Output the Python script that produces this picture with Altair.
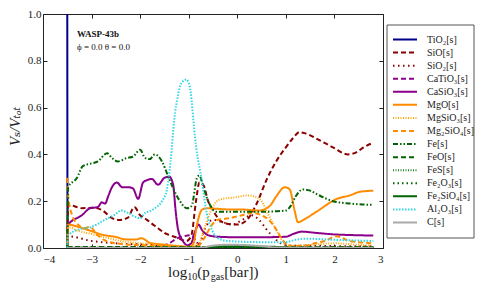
import altair as alt
import pandas as pd

species = ["TiO₂[s]", "SiO[s]", "SiO₂[s]", "CaTiO₃[s]", "CaSiO₃[s]", "MgO[s]",
           "MgSiO₃[s]", "Mg₂SiO₄[s]", "Fe[s]", "FeO[s]", "FeS[s]", "Fe₂O₃[s]",
           "Fe₂SiO₄[s]", "Al₂O₃[s]", "C[s]"]
colors = ["#00008B", "#8B0000", "#8B0000", "#8B008B", "#8B008B", "#FF8C00",
          "#FFA500", "#FF8C00", "#006400", "#006400", "#228B22", "#006400",
          "#006400", "#33D6E3", "#A9A9A9"]
dashes = [[1, 0], [5, 3], [1.5, 3.5], [5, 3], [1, 0], [1, 0],
          [1, 1.5], [5, 3], [5, 2, 1.5, 2, 1.5, 2], [5, 3], [1, 1.5], [1.5, 3],
          [1, 0], [1.5, 1.5], [1, 0]]

tio2_x = [-3.5, -3.495, 2.8]
tio2_y = [1.0, 0.0, 0.0]

sio_x = [-3.5, -3.48, -3.2, -2.97, -2.77, -2.58, -2.42, -2.25, -2.12, -2.0, -1.86,
         -1.7, -1.5, -1.25, -1.05, -0.95, -0.85, -0.78, -0.7, -0.6, -0.5, -0.25,
         0.0, 0.2, 0.4, 0.6, 0.8, 1.0, 1.15, 1.28, 1.4, 1.7, 1.97, 2.28, 2.46, 2.6, 2.8]
sio_y = [0.0, 0.185, 0.17, 0.172, 0.16, 0.128, 0.12, 0.13, 0.175, 0.14, 0.12,
         0.095, 0.065, 0.045, 0.03, 0.05, 0.2, 0.28, 0.27, 0.2, 0.16, 0.105,
         0.10, 0.12, 0.19, 0.29, 0.37, 0.43, 0.47, 0.495, 0.49, 0.46, 0.43, 0.40, 0.41, 0.43, 0.45]

sio2_x = [-3.5, -3.48, -3.0, -2.5, -2.0, -1.5, -1.0, -0.8, -0.65, -0.5, -0.3, -0.1,
          0.1, 0.3, 0.45, 0.6, 0.75, 0.9, 1.1, 1.5, 2.0, 2.8]
sio2_y = [0.0, 0.05, 0.03, 0.02, 0.015, 0.01, 0.005, 0.01, 0.09, 0.12, 0.11, 0.10,
          0.12, 0.14, 0.12, 0.08, 0.045, 0.02, 0.01, 0.01, 0.008, 0.008]

catio3_x = [-3.5, -3.48, -2.0, -1.6, -1.4, -1.25, -1.1, -0.95, -0.85, -0.75, 0.0, 2.8]
catio3_y = [0.0, 0.004, 0.004, 0.008, 0.02, 0.04, 0.05, 0.055, 0.03, 0.003, 0.002, 0.002]

casio3_x = [-3.5, -3.48, -3.2, -3.03, -2.87, -2.79, -2.72, -2.66, -2.58, -2.48, -2.37,
            -2.25, -2.15, -2.04, -1.94, -1.86, -1.76, -1.63, -1.5, -1.4, -1.32, -1.27,
            -1.22, -1.12, -1.03, -0.95, -0.87, -0.8, -0.72, -0.6, -0.4, 0.0, 0.5, 1.0,
            1.15, 1.33, 1.6, 2.0, 2.4, 2.8]
casio3_y = [0.0, 0.10, 0.14, 0.17, 0.175, 0.195, 0.19, 0.22, 0.26, 0.28, 0.26,
            0.26, 0.255, 0.21, 0.28, 0.29, 0.295, 0.27, 0.30, 0.305, 0.27, 0.16,
            0.08, 0.03, 0.012, 0.02, 0.07, 0.1, 0.075, 0.055, 0.048, 0.046, 0.046, 0.048,
            0.06, 0.07, 0.065, 0.058, 0.055, 0.053]

mgo_x = [-3.5, -3.48, -3.2, -3.0, -2.8, -2.5, -2.3, -2.1, -1.97, -1.8, -1.5, -1.2,
         -1.0, -0.9, -0.83, -0.72, -0.6, -0.45, -0.2, 0.05, 0.45, 0.67, 0.8, 0.98,
         1.08, 1.18, 1.25, 1.4, 1.63, 2.05, 2.32, 2.52, 2.8]
mgo_y = [0.0, 0.10, 0.085, 0.072, 0.058, 0.047, 0.037, 0.036, 0.042, 0.022, 0.014, 0.008,
         0.004, 0.02, 0.1, 0.165, 0.17, 0.168, 0.165, 0.165, 0.16, 0.18, 0.22, 0.26,
         0.25, 0.16, 0.11, 0.125, 0.155, 0.21, 0.225, 0.24, 0.245]

mgsio3_x = [-3.5, -3.48, -3.3, -3.0, -2.7, -2.4, -2.0, -1.5, -1.0, -0.8, -0.65, -0.52,
            -0.42, -0.3, -0.1, 0.05, 0.2, 0.35, 0.5, 0.62, 0.77, 0.9, 1.0, 1.2, 1.6,
            2.0, 2.4, 2.8]
mgsio3_y = [0.0, 0.09, 0.075, 0.06, 0.045, 0.03, 0.02, 0.01, 0.005, 0.02, 0.1, 0.17,
            0.2, 0.21, 0.215, 0.22, 0.225, 0.22, 0.2, 0.15, 0.09, 0.04, 0.015, 0.01, 0.015,
            0.02, 0.015, 0.01]

mg2sio4_x = [-3.5, -3.48, -3.4, -3.3, -3.15, -3.03, -2.9, -2.7, -2.5, -2.0, -1.5, -1.0,
             -0.8, -0.7, -0.55, -0.42, -0.25, -0.1, 0.1, 0.3, 0.5, 0.65, 0.8, 0.95, 1.1,
             1.4, 1.6, 1.8, 2.05, 2.3, 2.5, 2.8]
mg2sio4_y = [0.3, 0.22, 0.14, 0.105, 0.085, 0.09, 0.06, 0.03, 0.02, 0.012, 0.008, 0.005,
             0.01, 0.035, 0.09, 0.12, 0.125, 0.13, 0.14, 0.15, 0.14, 0.12, 0.08, 0.03, 0.008,
             0.01, 0.02, 0.03, 0.05, 0.03, 0.025, 0.02]

fe_x = [-3.5, -3.48, -3.3, -3.18, -3.03, -2.87, -2.68, -2.58, -2.46, -2.27, -2.15, -2.0,
        -1.9, -1.8, -1.7, -1.55, -1.43, -1.33, -1.18, -1.04, -0.94, -0.83, -0.78, -0.7,
        -0.6, -0.42, 0.0, 0.5, 1.0, 1.1, 1.2, 1.35, 1.5, 1.64, 1.97, 2.32, 2.73, 2.8]
fe_y = [0.0, 0.26, 0.30, 0.35, 0.36, 0.37, 0.405, 0.385, 0.37, 0.385, 0.39, 0.42,
        0.385, 0.38, 0.40, 0.37, 0.31, 0.26, 0.2, 0.17, 0.18, 0.30, 0.31, 0.26,
        0.2, 0.155, 0.155, 0.155, 0.16, 0.18, 0.22, 0.25, 0.245, 0.23, 0.2, 0.19, 0.185, 0.185]

feo_x = [-3.5, -3.48, 2.8]
feo_y = [0.0, 0.003, 0.003]

fes_x = [-3.5, -3.48, 2.8]
fes_y = [0.0, 0.002, 0.002]

fe2o3_x = [-3.5, -3.48, 2.8]
fe2o3_y = [0.0, 0.002, 0.002]

fe2sio4_x = [-3.5, -3.48, -1.0, -0.6, -0.3, 0.0, 0.5, 0.9, 1.1, 2.8]
fe2sio4_y = [0.0, 0.0, 0.0, 0.003, 0.008, 0.008, 0.006, 0.004, 0.0, 0.0]

al2o3_x = [-3.5, -3.48, -3.25, -3.0, -2.73, -2.5, -2.4, -2.25, -2.1, -2.0, -1.9, -1.8,
           -1.7, -1.55, -1.45, -1.4, -1.35, -1.32, -1.28, -1.24, -1.18, -1.13, -1.05,
           -0.98, -0.94, -0.91, -0.87, -0.84, -0.73, -0.63, -0.52, -0.42, -0.2, 0.5,
           1.0, 1.2, 1.4, 2.0, 2.8]
al2o3_y = [0.0, 0.055, 0.08, 0.09, 0.12, 0.145, 0.16, 0.15, 0.133, 0.127, 0.15, 0.157,
           0.17, 0.2, 0.25, 0.32, 0.42, 0.5, 0.58, 0.63, 0.69, 0.71, 0.72,
           0.69, 0.63, 0.56, 0.47, 0.42, 0.29, 0.15, 0.077, 0.045, 0.03, 0.025,
           0.025, 0.035, 0.04, 0.035, 0.03]

c_x = [-3.5, -3.48, -0.8, -0.5, -0.2, 0.2, 0.5, 0.8, 2.8]
c_y = [0.0, 0.0, 0.0, 0.01, 0.014, 0.012, 0.008, 0.002, 0.0]

x_ticks = [-4, -3, -2, -1, 0, 1, 2, 3]
y_ticks = [0.0, 0.2, 0.4, 0.6, 0.8, 1.0]

note_title = ["WASP-43b"]
note_angles = ["ϕ = 0.0 θ = 0.0"]
note_x = [-3.30]
note_title_y = [0.9145]
note_angles_y = [0.859]

series = [
    (tio2_x, tio2_y), (sio_x, sio_y), (sio2_x, sio2_y), (catio3_x, catio3_y),
    (casio3_x, casio3_y), (mgo_x, mgo_y), (mgsio3_x, mgsio3_y), (mg2sio4_x, mg2sio4_y),
    (fe_x, fe_y), (feo_x, feo_y), (fes_x, fes_y), (fe2o3_x, fe2o3_y),
    (fe2sio4_x, fe2sio4_y), (al2o3_x, al2o3_y), (c_x, c_y),
]

rows = []
for name, (xs, ys) in zip(species, series):
    for i, (xv, yv) in enumerate(zip(xs, ys)):
        rows.append({"species": name, "x": xv, "y": yv, "i": i})
df = pd.DataFrame(rows)
legend_df = pd.DataFrame({"species": species})

FONT = "Liberation Serif, DejaVu Serif, serif"
xscale = alt.Scale(domain=[-4, 3], nice=False, zero=False)
yscale = alt.Scale(domain=[0, 1], nice=False, zero=False)
color_scale = alt.Scale(domain=species, range=colors)
dash_scale = alt.Scale(domain=species, range=dashes)

x_bottom = alt.Axis(values=x_ticks, format="d", tickSize=4, offset=-4, domain=False,
                    grid=False, labelPadding=5, labelFont=FONT, labelFontSize=11,
                    labelColor="#222", tickColor="#222", title=None)
y_left = alt.Axis(values=y_ticks, format=".1f", tickSize=4, offset=-4, domain=False,
                  grid=False, labelPadding=2, labelFont=FONT, labelFontSize=11,
                  labelColor="#222", tickColor="#222",
                  title="Vₛ/Vₜₒₜ", titleFont=FONT, titleFontSize=15,
                  titleFontStyle="italic", titleFontWeight="normal", titleColor="#222",
                  titleX=-33, titleY=112, titleAngle=270, titleAlign="center",
                  titleBaseline="middle")
x_top = alt.Axis(values=x_ticks, orient="top", tickSize=4, offset=-4, domain=False,
                 grid=False, labels=False, tickColor="#222", title=None)
y_right = alt.Axis(values=y_ticks, orient="right", tickSize=4, offset=-4, domain=False,
                   grid=False, labels=False, tickColor="#222", title=None)

lines = alt.Chart(df).mark_line(strokeWidth=2, interpolate="monotone", clip=True).encode(
    x=alt.X("x:Q", scale=xscale, axis=x_bottom),
    y=alt.Y("y:Q", scale=yscale, axis=y_left),
    color=alt.Color("species:N", scale=color_scale, legend=None),
    strokeDash=alt.StrokeDash("species:N", scale=dash_scale, legend=None),
    order=alt.Order("i:Q"),
)

frame_axes = alt.Chart(df).mark_point(opacity=0).encode(
    x=alt.X("x:Q", scale=xscale, axis=x_top),
    y=alt.Y("y:Q", scale=yscale, axis=y_right),
)

note1 = alt.Chart(pd.DataFrame({"text": note_title, "x": note_x, "y": note_title_y})).mark_text(
    align="left", baseline="middle", font=FONT, fontSize=9, fontWeight="bold", color="#111"
).encode(
    x=alt.X("x:Q", scale=xscale, axis=None),
    y=alt.Y("y:Q", scale=yscale, axis=None),
    text="text:N",
)
note2 = alt.Chart(pd.DataFrame({"text": note_angles, "x": note_x, "y": note_angles_y})).mark_text(
    align="left", baseline="middle", font=FONT, fontSize=9, color="#111"
).encode(
    x=alt.X("x:Q", scale=xscale, axis=None),
    y=alt.Y("y:Q", scale=yscale, axis=None),
    text="text:N",
)

# manual legend (box, line samples, labels)
legend_rows = alt.Scale(type="point", domain=species, range=[19, 215])
legend_box = alt.Chart(pd.DataFrame({"k": [0]})).mark_rect(
    fill="white", stroke="#555", strokeWidth=1
).encode(x=alt.value(344), x2=alt.value(431), y=alt.value(11), y2=alt.value(224))
legend_lines = alt.Chart(legend_df).mark_rule(strokeWidth=2).encode(
    x=alt.value(350), x2=alt.value(374),
    y=alt.Y("species:N", scale=legend_rows, axis=None),
    color=alt.Color("species:N", scale=color_scale, legend=None),
    strokeDash=alt.StrokeDash("species:N", scale=dash_scale, legend=None),
)
legend_labels = alt.Chart(legend_df).mark_text(
    align="left", baseline="middle", font=FONT, fontSize=10, color="#222"
).encode(
    x=alt.value(384),
    y=alt.Y("species:N", scale=legend_rows, axis=None),
    text="species:N",
)

# x axis title pieces (with subscripts)
title_parts = ["log", "10", "(p", "gas", "[bar])"]
title_sizes = [15, 10, 15, 10, 15]
title_left = [125.0, 144.2, 154.2, 167.8, 181.3]
title_base = [262.5, 265.5, 262.5, 265.5, 262.5]
title_layers = []
for t, s, xl, yb in zip(title_parts, title_sizes, title_left, title_base):
    title_layers.append(
        alt.Chart(pd.DataFrame({"t": [t]})).mark_text(
            align="left", baseline="alphabetic", font=FONT, fontSize=s, color="#222"
        ).encode(x=alt.value(xl), y=alt.value(yb), text="t:N")
    )

chart = alt.layer(
    lines, frame_axes, note1, note2, legend_box, legend_lines, legend_labels, *title_layers
).resolve_axis(
    x="independent", y="independent"
).resolve_scale(
    y="independent"
).properties(
    width=340, height=234,
    autosize=alt.AutoSizeParams(type="none"),
    padding={"left": 35, "top": 6, "right": 92, "bottom": 34},
).configure_view(stroke="#222", strokeWidth=1)

chart.save("out.html", embed_options={"renderer": "svg", "actions": False})
